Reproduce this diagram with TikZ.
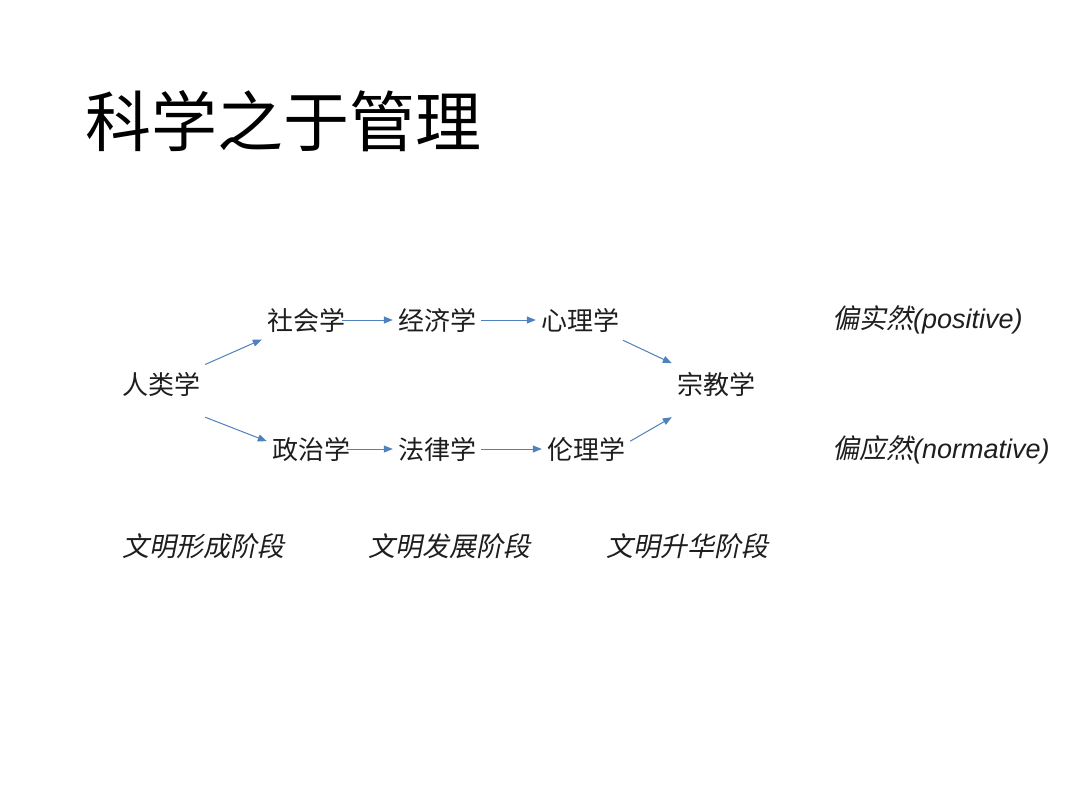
\documentclass[tikz,border=0pt]{standalone}
\usepackage{fontspec}
\setmainfont{Liberation Sans}
\newfontfamily\cjk{Noto Sans CJK SC}
\newfontfamily\cjkit{Noto Sans CJK SC}[FakeSlant=0.2]
\usepackage{xcolor}
\usepackage{tikz}
\usetikzlibrary{positioning, arrows.meta}
\definecolor{arrowblue}{RGB}{79,129,189}
\definecolor{inkgray}{RGB}{30,30,30}

\begin{document}
\begin{tikzpicture}[x=1pt, y=-1pt,
          nd/.style={font=\cjk\fontsize{26}{30}\selectfont, text=inkgray, inner xsep=5pt, inner ysep=#1, text height=23pt, text depth=3pt},
          nd/.default=7pt,
          edg/.style={-{Triangle[length=9pt, width=7pt]}, arrowblue, line width=1pt},
          lbl/.style={font=\cjkit\fontsize{27}{30}\selectfont, text=inkgray, anchor=west, inner sep=0pt},
        ]
        \useasboundingbox[fill=white] (0,0) rectangle (1080,809);
        \node[font=\cjk\fontsize{66}{70}\selectfont, text=black, anchor=west, inner sep=0pt] (title) at (85,121) {科学之于管理};
        \node[nd=20pt] (ren)   at (161,384) {人类学};
        \node[nd]      (she)   at (306,320) {社会学};
        \node[nd]      (jing)  at (437,320) {经济学};
        \node[nd]      (xin)   at (580,320) {心理学};
        \node[nd]      (zheng) at (311,449) {政治学};
        \node[nd]      (fa)    at (437,449) {法律学};
        \node[nd]      (lun)   at (586,449) {伦理学};
        \node[nd=20pt] (zong)  at (716,384) {宗教学};
        \draw[edg] (ren) -- (she);
        \draw[edg] (ren.south east) -- (zheng.170);
        \draw[edg, shorten <=-8pt] (she) -- (jing);
        \draw[edg] (jing) -- (xin);
        \draw[edg] (xin) -- (zong);
        \draw[edg, shorten <=-8pt] (zheng) -- (fa);
        \draw[edg] (fa) -- (lun);
        \draw[edg] (lun.10) -- (zong.south west);
        % right column and stages
        \node[lbl] (pos)  at (832,320) {偏实然{\rmfamily\itshape (positive)}};
        \node[lbl] (norm) at (832,450) {偏应然{\rmfamily\itshape (normative)}};
        \node[lbl] (st1) at (122,546) {文明形成阶段};
        \node[lbl] (st2) at (368,546) {文明发展阶段};
        \node[lbl] (st3) at (606,546) {文明升华阶段};
        \end{tikzpicture}
\end{document}
